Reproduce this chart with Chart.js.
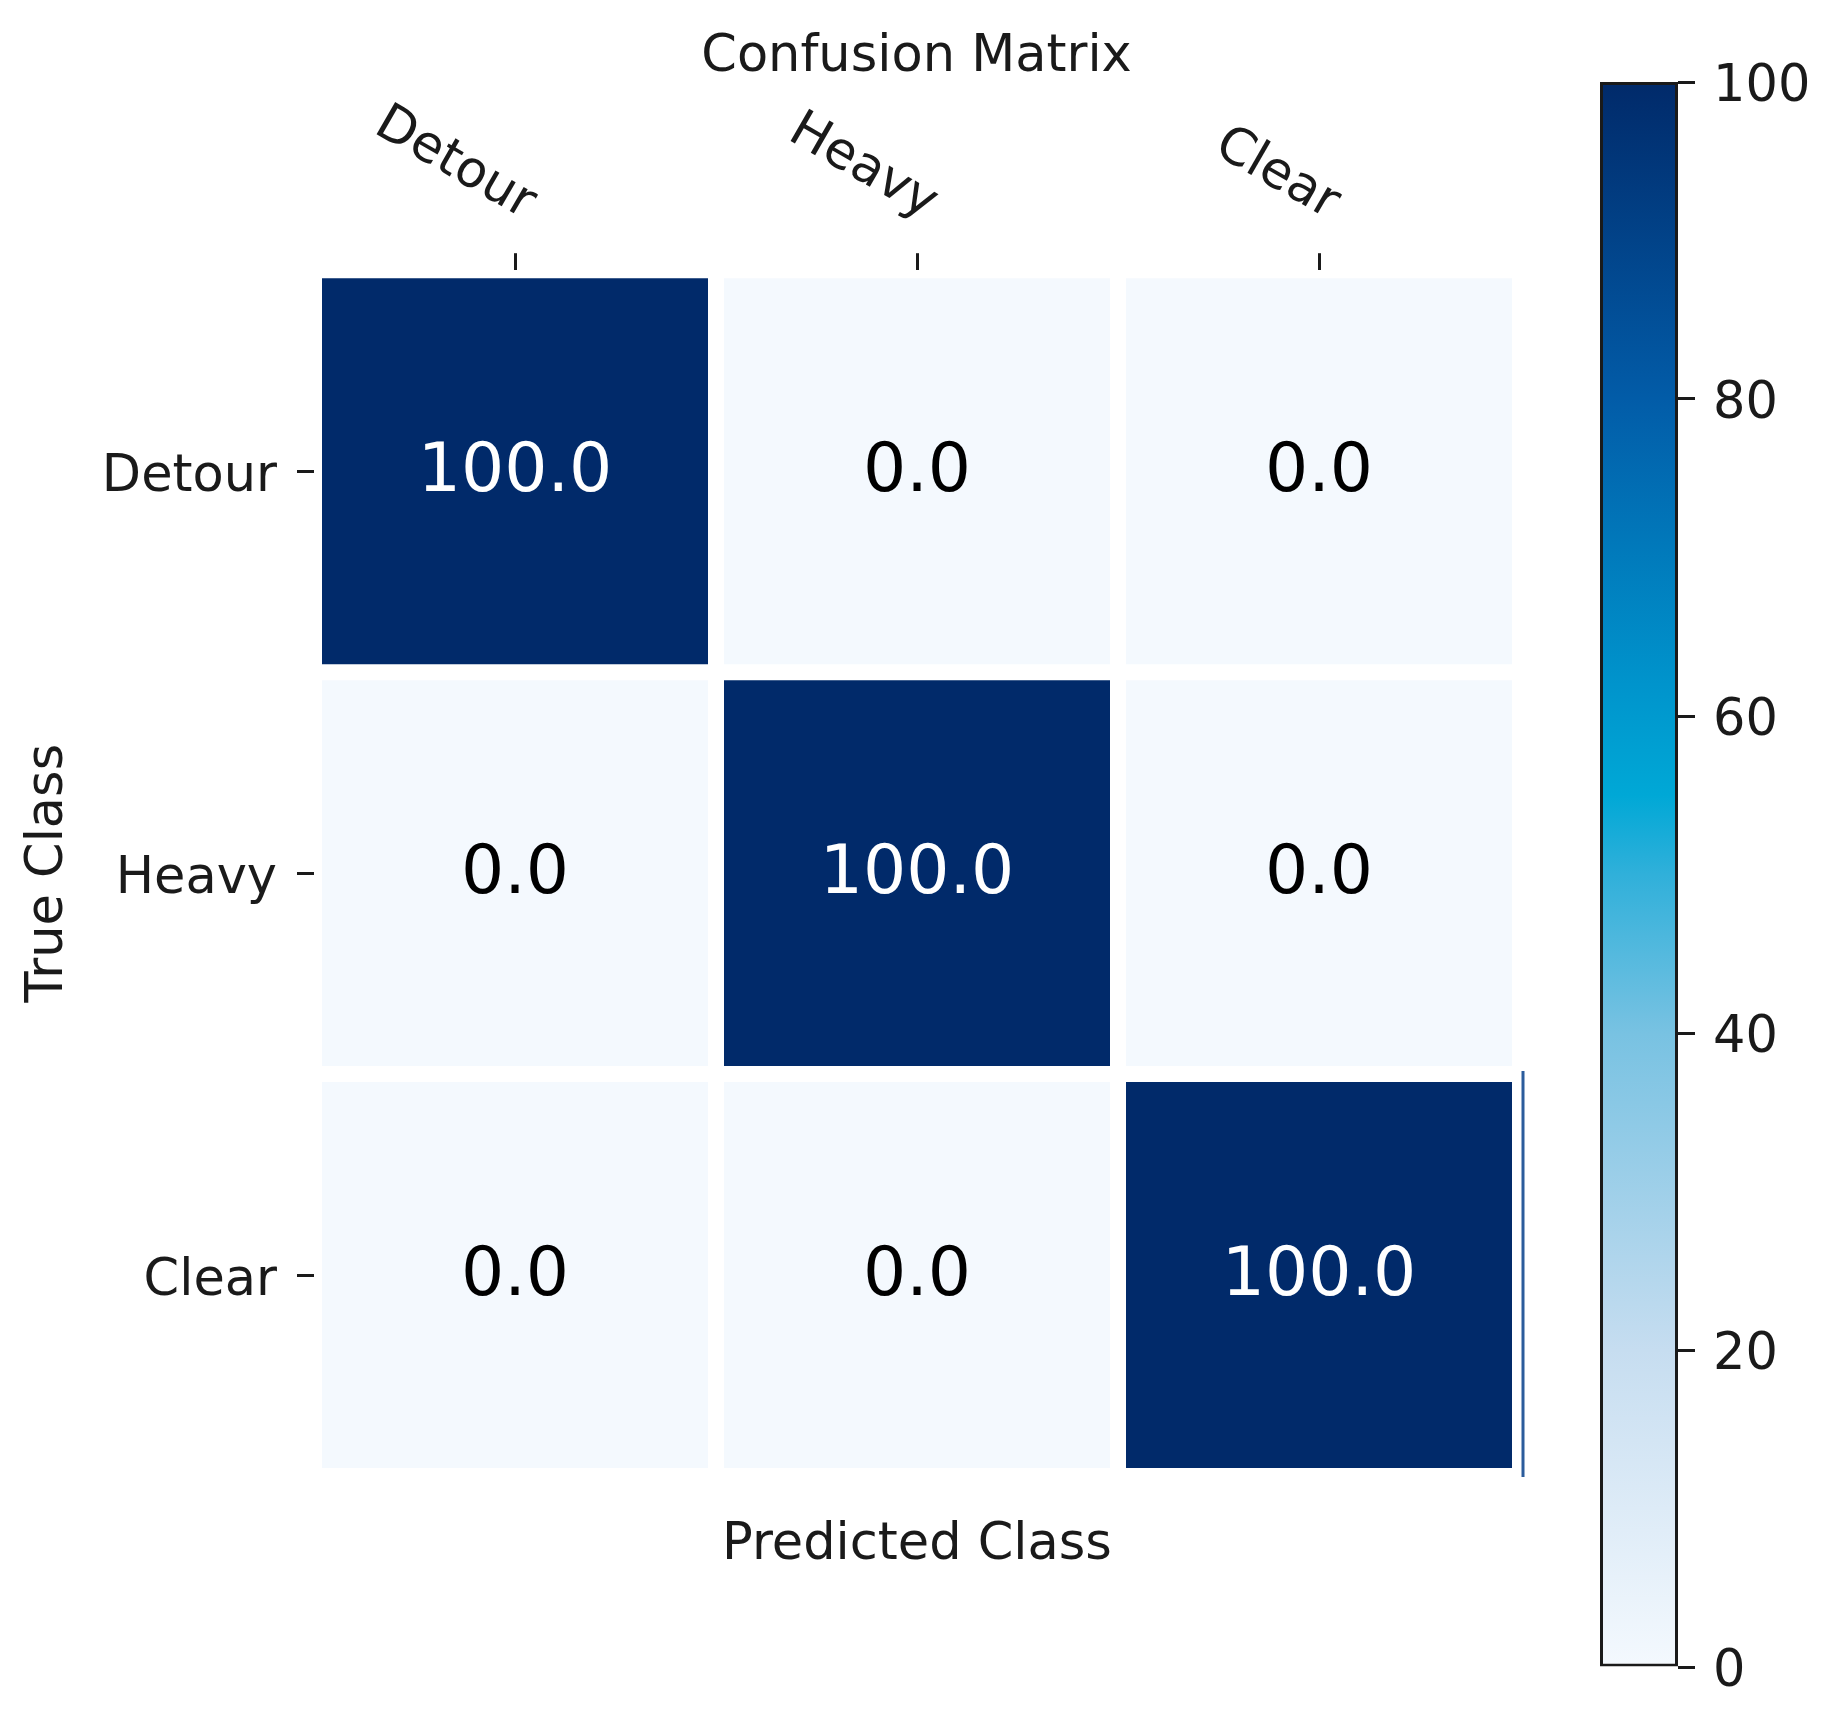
<!DOCTYPE html>
<html>
<head>
<meta charset="utf-8">
<script src="https://cdn.jsdelivr.net/npm/chart.js@4.4.0/dist/chart.umd.min.js"></script>
<style>
  body { margin: 0; background: #fff; }
  #wrap { position: relative; width: 1833px; height: 1716px; }
  #wrap canvas { position: absolute; left: 0; top: 0; }
</style>
</head>
<body>
<div id="wrap">
  <canvas id="cm" width="1833" height="1716"></canvas>
  <canvas id="cb" width="1833" height="1716"></canvas>
</div>
<script>
const predLabels = ['Detour', 'Heavy', 'Clear'];
const trueLabels = ['Detour', 'Heavy', 'Clear'];
const matrix = [
  [100.0, 0.0, 0.0],
  [0.0, 100.0, 0.0],
  [0.0, 0.0, 100.0]
];
const cbTicks = [0, 20, 40, 60, 80, 100];
const vMax = 100;

// colour ramp of the colorbar, light to dark
const cmap = [
  [0.00, [244, 249, 254]],
  [0.20, [198, 221, 240]],
  [0.40, [120, 194, 226]],
  [0.50, [48, 176, 218]],
  [0.55, [0, 168, 214]],
  [0.62, [0, 148, 204]],
  [0.80, [2, 92, 168]],
  [1.00, [1, 42, 106]]
];

function colorAt(t) {
  t = Math.max(0, Math.min(1, t));
  for (let i = 1; i < cmap.length; i++) {
    if (t <= cmap[i][0]) {
      const [t0, c0] = cmap[i - 1], [t1, c1] = cmap[i];
      const f = (t - t0) / (t1 - t0);
      const c = c0.map((v, k) => Math.round(v + (c1[k] - v) * f));
      return `rgb(${c[0]},${c[1]},${c[2]})`;
    }
  }
  const c = cmap[cmap.length - 1][1];
  return `rgb(${c[0]},${c[1]},${c[2]})`;
}

Chart.defaults.font.family = '"DejaVu Sans"';
Chart.defaults.color = '#1a1a1a';

const FS = 51;

// numbers written in each cell
const cellLabels = {
  id: 'cellLabels',
  afterDatasetsDraw(chart) {
    const ctx = chart.ctx;
    const ys = chart.scales.y;
    ctx.save();
    ctx.font = '68px "DejaVu Sans"';
    ctx.textAlign = 'center';
    ctx.textBaseline = 'middle';
    chart.data.datasets.forEach((ds, r) => {
      chart.getDatasetMeta(r).data.forEach((bar, c) => {
        const v = matrix[r][c];
        ctx.fillStyle = v > vMax / 2 ? '#ffffff' : '#000000';
        ctx.fillText(v.toFixed(1), bar.x, (bar.y + bar.base) / 2 + 2);
      });
    });
    // thin edge line seen beside the last row
    ctx.strokeStyle = '#2b5c9c';
    ctx.lineWidth = 3;
    ctx.beginPath();
    ctx.moveTo(chart.chartArea.right + 3, ys.getPixelForValue(2) - 3);
    ctx.lineTo(chart.chartArea.right + 3, ys.getPixelForValue(3) + 1);
    ctx.stroke();
    ctx.restore();
  }
};

// rotated column labels above the top axis
const topLabels = {
  id: 'topLabels',
  afterDraw(chart) {
    const xs = chart.scales.x;
    const ctx = chart.ctx;
    ctx.save();
    ctx.font = FS + 'px "DejaVu Sans"';
    ctx.fillStyle = '#1a1a1a';
    ctx.textAlign = 'right';
    ctx.textBaseline = 'alphabetic';
    predLabels.forEach((lab, i) => {
      const px = xs.getPixelForTick(i);
      ctx.save();
      ctx.translate(px + 9, xs.bottom - 51);
      ctx.rotate(Math.PI / 6);
      ctx.fillText(lab, 0, 0);
      ctx.restore();
    });
    ctx.restore();
  }
};

new Chart(document.getElementById('cm'), {
  type: 'bar',
  data: {
    labels: predLabels,
    datasets: matrix.map((row, r) => ({
      label: trueLabels[r],
      data: row.map(() => 1),
      backgroundColor: row.map(v => colorAt(v / vMax)),
      borderColor: '#ffffff',
      borderWidth: 8,
      borderSkipped: false,
      inflateAmount: 0,
      barPercentage: 1,
      categoryPercentage: 1
    }))
  },
  options: {
    responsive: false,
    animation: false,
    devicePixelRatio: 1,
    layout: { padding: { left: 0, right: 0, top: 0, bottom: 140 } },
    plugins: {
      legend: { display: false },
      tooltip: { enabled: false },
      title: {
        display: true,
        text: 'Confusion Matrix',
        color: '#1a1a1a',
        font: { size: FS, weight: 'normal' },
        padding: { top: 27, bottom: 12 }
      }
    },
    scales: {
      x: {
        type: 'category',
        position: 'top',
        stacked: true,
        offset: true,
        grid: { display: true, drawOnChartArea: false, offset: false, tickLength: 17, tickWidth: 3, tickColor: '#1a1a1a' },
        border: { display: false },
        ticks: { display: false },
        afterFit(s) { s.height = 170; }
      },
      x2: {
        type: 'category',
        position: 'bottom',
        labels: predLabels,
        grid: { display: false },
        border: { display: false },
        ticks: { display: false },
        title: { display: true, text: 'Predicted Class', color: '#1a1a1a', font: { size: FS }, padding: { top: 39, bottom: 0 } },
        afterFit(s) { s.height = 100; }
      },
      y: {
        type: 'linear',
        min: 0,
        max: 3,
        reverse: true,
        stacked: true,
        afterBuildTicks(s) { s.ticks = trueLabels.map((_, i) => ({ value: i + 0.5 })); },
        ticks: { callback: v => trueLabels[Math.floor(v)], font: { size: FS }, padding: 20, labelOffset: 7, color: '#1a1a1a' },
        grid: { display: true, drawOnChartArea: false, tickLength: 17, tickWidth: 3, tickColor: '#1a1a1a' },
        border: { display: false },
        title: { display: true, text: 'True Class', color: '#1a1a1a', font: { size: FS }, padding: { top: 18, bottom: 0 } },
        afterFit(s) { s.width = 314; }
      },
      // empty right-hand strip that keeps room for the colorbar
      yRight: {
        type: 'linear',
        position: 'right',
        display: true,
        grid: { display: false },
        border: { display: false },
        ticks: { display: false },
        afterFit(s) { s.width = 313; }
      }
    }
  },
  plugins: [cellLabels, topLabels]
});

function cbGradient(chart) {
  const area = chart.chartArea;
  if (!area) return colorAt(1);
  const g = chart.ctx.createLinearGradient(0, area.bottom, 0, area.top);
  cmap.forEach(([t, c]) => g.addColorStop(t, `rgb(${c[0]},${c[1]},${c[2]})`));
  return g;
}

new Chart(document.getElementById('cb'), {
  type: 'bar',
  data: {
    labels: [''],
    datasets: [{
      data: [vMax],
      backgroundColor: ctx => cbGradient(ctx.chart),
      borderColor: '#1a1a1a',
      borderWidth: 3,
      borderSkipped: false,
      inflateAmount: 0,
      barPercentage: 1,
      categoryPercentage: 1
    }]
  },
  options: {
    responsive: false,
    animation: false,
    devicePixelRatio: 1,
    layout: { padding: { left: 1600, right: 0, top: 82, bottom: 49 } },
    plugins: { legend: { display: false }, tooltip: { enabled: false } },
    scales: {
      x: { display: false },
      y: {
        position: 'right',
        min: 0,
        max: vMax,
        afterBuildTicks(s) { s.ticks = cbTicks.map(v => ({ value: v })); },
        ticks: { font: { size: FS }, padding: 18, labelOffset: 6, color: '#1a1a1a' },
        grid: { drawOnChartArea: false, tickLength: 17, tickWidth: 3, tickColor: '#1a1a1a' },
        border: { display: false },
        afterFit(s) { s.width = 155; }
      }
    }
  }
});
</script>
</body>
</html>
